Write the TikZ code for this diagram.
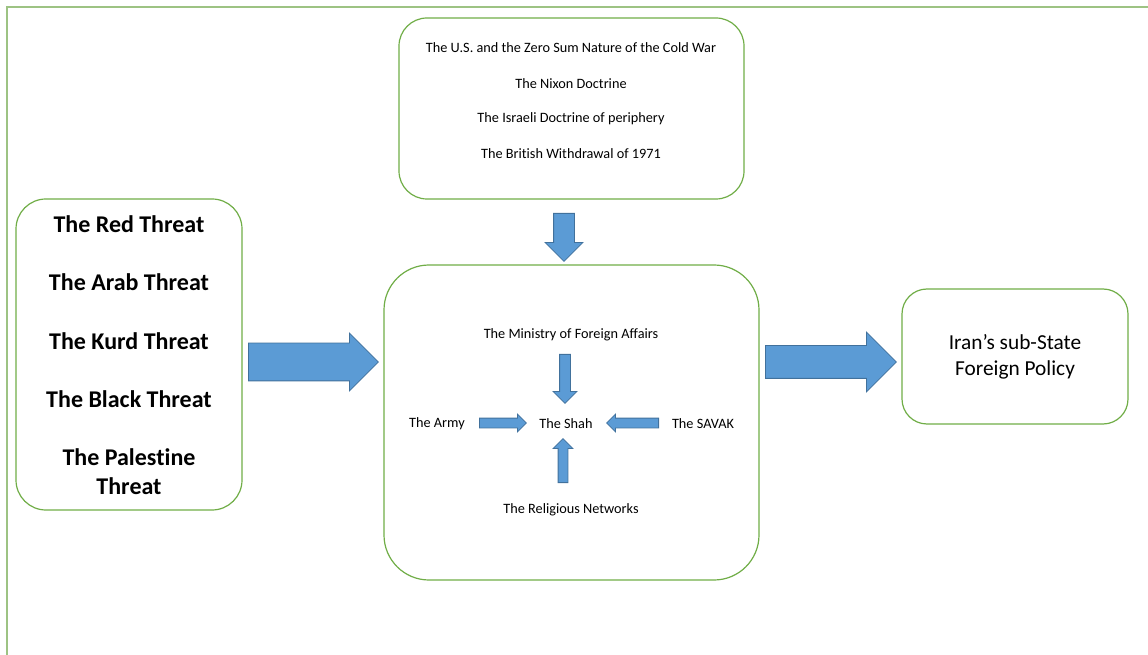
\documentclass[tikz,border=0pt]{standalone}
\usepackage{fontspec}
\setmainfont{Carlito}[Ligatures=NoCommon]
\usetikzlibrary{positioning}
\usetikzlibrary{shapes.arrows}
\definecolor{boxgreen}{HTML}{70AD47}
\definecolor{framegreen}{HTML}{9DC383}
\definecolor{arrowblue}{HTML}{5B9BD5}
\definecolor{arrowedge}{HTML}{41719C}
\newdimen\px
\px=0.75pt

\begin{document}
\begin{tikzpicture}[x=0.75pt, y=-0.75pt,
                greenbox/.style={rectangle, draw=boxgreen, line width=0.9pt},
                smalltext/.style={font=\fontsize{10.7}{13}\selectfont, inner sep=0pt},
                threattext/.style={font=\fontsize{18}{21.75}\selectfont\bfseries, align=center, inner sep=0pt},
                policytext/.style={font=\fontsize{16}{19.5}\selectfont, align=center, inner sep=0pt},
                bluearrow/.style n args={3}{single arrow, draw=arrowedge, fill=arrowblue, line width=0.6pt,
                    inner xsep=0pt, inner ysep=#3/2*\px, single arrow head indent=0pt, anchor=tail,
                    minimum height=#1\px, single arrow head extend=(#2-#3)/2*\px},
                ]
                \useasboundingbox (0,0) rectangle (1148,655);
                \draw[framegreen, line width=1.1pt] (7,665) -- (7,7) -- (1160,7);

                % the four boxes
                \node[greenbox, rounded corners=28\px, minimum width=345\px, minimum height=181\px] (factors) at (571.5,108.5) {};
                \node[greenbox, rounded corners=30\px, minimum width=226\px, minimum height=311\px] (threats) at (129,354.5) {};
                \node[greenbox, rounded corners=45\px, minimum width=375\px, minimum height=315\px] (core) at (571.5,422.5) {};
                \node[greenbox, rounded corners=25\px, minimum width=226\px, minimum height=135\px] (policy) at (1015,356.5) {};

                % outside factors
                \node[smalltext] (coldwar) at (571,48) {The U.S. and the Zero Sum Nature of the Cold War};
                \node[smalltext] (nixon) at (571,84) {The Nixon Doctrine};
                \node[smalltext] (periphery) at (571,119) {The Israeli Doctrine of periphery};
                \node[smalltext] (british) at (571,154) {The British Withdrawal of 1971};

                % threats
                \node[threattext] (red) at (129,224) {The Red Threat};
                \node[threattext] (arab) at (129,282) {The Arab Threat};
                \node[threattext] (kurd) at (129,341) {The Kurd Threat};
                \node[threattext] (black) at (129,399) {The Black Threat};
                \node[threattext] (palestine) at (129,471.5) {The Palestine\\Threat};

                % inside the state
                \node[smalltext] (ministry) at (571,335) {The Ministry of Foreign Affairs};
                \node[smalltext] (army) at (437,424) {The Army};
                \node[smalltext] (shah) at (566,424) {The Shah};
                \node[smalltext] (savak) at (703,424) {The SAVAK};
                \node[smalltext] (religious) at (571,510) {The Religious Networks};

                \node[policytext] (iran) at (1015,357) {Iran’s sub-State\\Foreign Policy};

                % block arrows (placed by their tails)
                \node[bluearrow={130}{57}{37}] (threatsarrow) at (248,362) {};
                \node[bluearrow={131}{59}{32}] (policyarrow) at (765,362) {};
                \node[bluearrow={48}{37}{20}, rotate=-90] (factorsarrow) at (564,213) {};
                \node[bluearrow={49}{23}{10}, rotate=-90] (ministryarrow) at (565,354) {};
                \node[bluearrow={47}{17}{9}] (armyarrow) at (479,423) {};
                \node[bluearrow={52}{17}{9}, rotate=180] (savakarrow) at (659,423) {};
                \node[bluearrow={44}{19}{9}, rotate=90] (religiousarrow) at (563,483) {};
            \end{tikzpicture}
\end{document}
